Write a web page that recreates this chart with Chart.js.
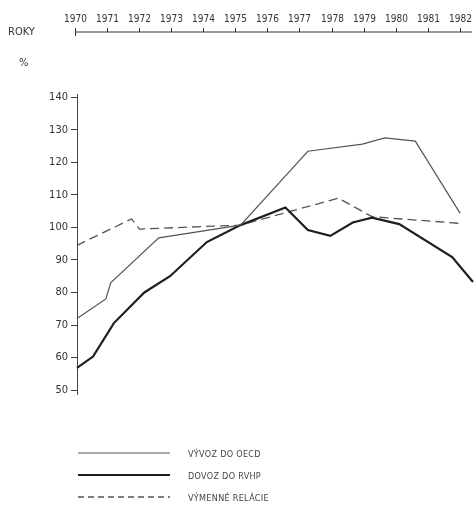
<!DOCTYPE html>
<html>
<head>
<meta charset="utf-8">
<script src="https://cdn.jsdelivr.net/npm/chart.js@4/dist/chart.umd.min.js"></script>
<style>
  html, body { margin: 0; padding: 0; background: #fff; }
  #wrap { position: relative; width: 476px; height: 513px; font-family: "DejaVu Sans Condensed", "Liberation Sans Narrow", "DejaVu Sans", sans-serif; color: #333; }
  #chart { position: absolute; left: 0; top: 0; }
  .lbl { position: absolute; font-size: 11px; color: #333; }
  #legend { position: absolute; left: 78px; top: 446px; }
  .row { position: relative; height: 22px; }
  .row svg { position: absolute; left: 0; top: 4px; }
  .row span { position: absolute; left: 110px; top: 3px; font-size: 9px; letter-spacing: 0.3px; color: #444; white-space: nowrap; }
</style>
</head>
<body>
<div id="wrap">
  <canvas id="chart" width="476" height="513"></canvas>
  <div class="lbl" style="left:8px; top:25px;">ROKY</div>
  <div class="lbl" style="left:19px; top:56px;">%</div>
  <div id="legend"></div>
</div>
<script>
// ---- data ----
const yearTicks = [1970, 1971, 1972, 1973, 1974, 1975, 1976, 1977, 1978, 1979, 1980, 1981, 1982];
const valueTicks = [50, 60, 70, 80, 90, 100, 110, 120, 130, 140];
const seriesNames = ["VÝVOZ DO OECD", "DOVOZ DO RVHP", "VÝMENNÉ RELÁCIE"];

const oecdYears  = [1970, 1970.9, 1971.05, 1972.55, 1975.1, 1977.2, 1978.9, 1979.6, 1980.55, 1981.95];
const oecdValues = [72, 78, 83, 96.8, 100.7, 123.4, 125.6, 127.5, 126.5, 104.3];

const rvhpYears  = [1970, 1970.5, 1971.15, 1972.1, 1972.9, 1974.05, 1975.1, 1976.5, 1977.2, 1977.9, 1978.6, 1979.2, 1980.05, 1981.7, 1982.35];
const rvhpValues = [56.8, 60.3, 70.6, 80, 85, 95.5, 100.7, 106.1, 99.2, 97.4, 101.5, 103, 101, 90.9, 83.2];

const relYears  = [1970, 1971.7, 1971.95, 1975.1, 1978.15, 1979.2, 1982];
const relValues = [94.5, 102.6, 99.5, 100.7, 109, 103.3, 101.2];

// ---- styles ----
const styles = [
  { color: '#555', width: 1.2, dash: [] },
  { color: '#1e1e1e', width: 2.2, dash: [] },
  { color: '#555', width: 1.3, dash: [9, 5] }
];
const toPts = (xs, ys) => xs.map((x, i) => ({ x: x, y: ys[i] }));
const seriesData = [toPts(oecdYears, oecdValues), toPts(rvhpYears, rvhpValues), toPts(relYears, relValues)];

const FONT = '"DejaVu Sans Condensed", "Liberation Sans Narrow", "DejaVu Sans", sans-serif';

// top "ROKY" ruler drawn with the x scale
const topRuler = {
  id: 'topRuler',
  afterDraw(chart) {
    const ctx = chart.ctx, xs = chart.scales.x;
    const y = 32;
    ctx.save();
    ctx.strokeStyle = '#333';
    ctx.lineWidth = 1;
    ctx.beginPath();
    ctx.moveTo(xs.getPixelForValue(1970) - 2, y);
    ctx.lineTo(472, y);
    ctx.stroke();
    ctx.fillStyle = '#333';
    ctx.font = '10px ' + FONT;
    ctx.textAlign = 'center';
    ctx.textBaseline = 'alphabetic';
    yearTicks.forEach((yr, i) => {
      const px = Math.round(xs.getPixelForValue(yr)) - 2 + 0.5;
      ctx.beginPath();
      ctx.moveTo(px, y - 4);
      ctx.lineTo(px, i === 0 ? y + 4 : y);
      ctx.stroke();
      ctx.fillText(String(yr), px, y - 10);
    });
    ctx.restore();
  }
};

new Chart(document.getElementById('chart'), {
  type: 'line',
  data: {
    datasets: seriesNames.map((name, i) => ({
      label: name,
      data: seriesData[i],
      borderColor: styles[i].color,
      borderWidth: styles[i].width,
      borderDash: styles[i].dash,
      pointRadius: 0,
      tension: 0,
      fill: false,
      clip: false
    }))
  },
  options: {
    responsive: false,
    animation: false,
    layout: { padding: { left: 0, right: 3, top: 94, bottom: 119 } },
    plugins: { legend: { display: false }, tooltip: { enabled: false } },
    scales: {
      x: {
        type: 'linear', min: 1970, max: 1982.35, display: false
      },
      y: {
        type: 'linear', min: 48.8, max: 141,
        afterBuildTicks: (scale) => { scale.ticks = valueTicks.map(v => ({ value: v })); },
        afterFit: (scale) => { scale.width = 77; },
        border: { display: true, color: '#444', width: 1 },
        grid: { drawOnChartArea: false, drawTicks: true, tickLength: 6, color: '#444' },
        ticks: { color: '#333', padding: 3, font: { size: 11, family: FONT } }
      }
    }
  },
  plugins: [topRuler]
});

// legend
const leg = document.getElementById('legend');
seriesNames.forEach((name, i) => {
  const row = document.createElement('div');
  row.className = 'row';
  const st = styles[i];
  row.innerHTML = '<svg width="94" height="6"><line x1="0" y1="3" x2="92" y2="3" stroke="' + st.color +
    '" stroke-width="' + st.width + '"' + (st.dash.length ? ' stroke-dasharray="6,4"' : '') + '/></svg><span>' + name + '</span>';
  leg.appendChild(row);
});
</script>
</body>
</html>
